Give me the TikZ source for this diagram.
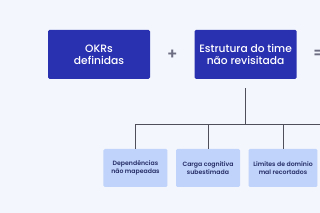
\documentclass[tikz,border=0pt]{standalone}
\usepackage{fontspec}
\setmainfont{Poppins}[UprightFont=* Medium, BoldFont=* SemiBold]
\usepackage{xcolor}
\usetikzlibrary{positioning,calc}

\definecolor{bgpage}{HTML}{F3F6FD}
\definecolor{okrblue}{HTML}{2A31B0}
\definecolor{leafblue}{HTML}{BFD3FB}
\definecolor{leaftext}{HTML}{262D66}
\definecolor{treeline}{HTML}{4F4F5C}
\definecolor{opgray}{HTML}{6E6E82}

\begin{document}
\begin{tikzpicture}[
  node distance  = 2mm,
  main/.style    = {rectangle, rounded corners=1pt, fill=okrblue, text=white,
                    minimum width=25.5mm, minimum height=12.25mm,
                    align=center, font=\fontsize{7.6}{8.6}\selectfont},
  leaf/.style    = {rectangle, rounded corners=1pt, fill=leafblue, text=leaftext,
                    minimum width=16mm, minimum height=9.5mm,
                    align=center, font=\fontsize{4.4}{5.4}\selectfont\bfseries},
  op/.style      = {text=opgray, font=\fontsize{11}{11}\selectfont\bfseries},
  wire/.style    = {draw=treeline, line width=0.45pt},
]

% ── Page ─────────────────────────────────────────────────────
\fill[bgpage] (0,0) rectangle (8,-5.325);
\clip (0,0) rectangle (8,-5.325);
\useasboundingbox (0,0) rectangle (8,-5.325);

% ── Top row ──────────────────────────────────────────────────
\node[main] (okr) at (2.475,-1.36) {OKRs\\definidas};
\node[main, right=11mm of okr] (estr) {Estrutura do time\\não revisitada};
\node[op] (plus) at ($(okr.east)!0.5!(estr.east -| estr.west)$) {+};
\node[op, right=5.5mm of estr.east, anchor=center] (eq) {=};

% ── Leaves ───────────────────────────────────────────────────
\node[leaf] (carga) at (5.2,-4.2) {Carga cognitiva\\subestimada};
\node[leaf, left=of carga]  (dep) {Dependências\\não mapeadas};
\node[leaf, right=of carga] (lim) {Limites de domínio\\mal recortados};

% ── Tree connectors ──────────────────────────────────────────
\coordinate (stem) at ($(estr.south)+(0,-0.225)$);
\coordinate (bus)  at ($(stem)+(0,-0.9)$);
\coordinate (busR) at (8.2,0 |- bus);
\draw[wire] (stem) -- (bus);
\draw[wire] (dep.north |- bus) -- (busR);
\draw[wire] (dep.north |- bus)   -- (dep.north);
\draw[wire] (carga.north |- bus) -- (carga.north);
\draw[wire] (lim.north |- bus)   -- (lim.north);

\end{tikzpicture}
\end{document}
